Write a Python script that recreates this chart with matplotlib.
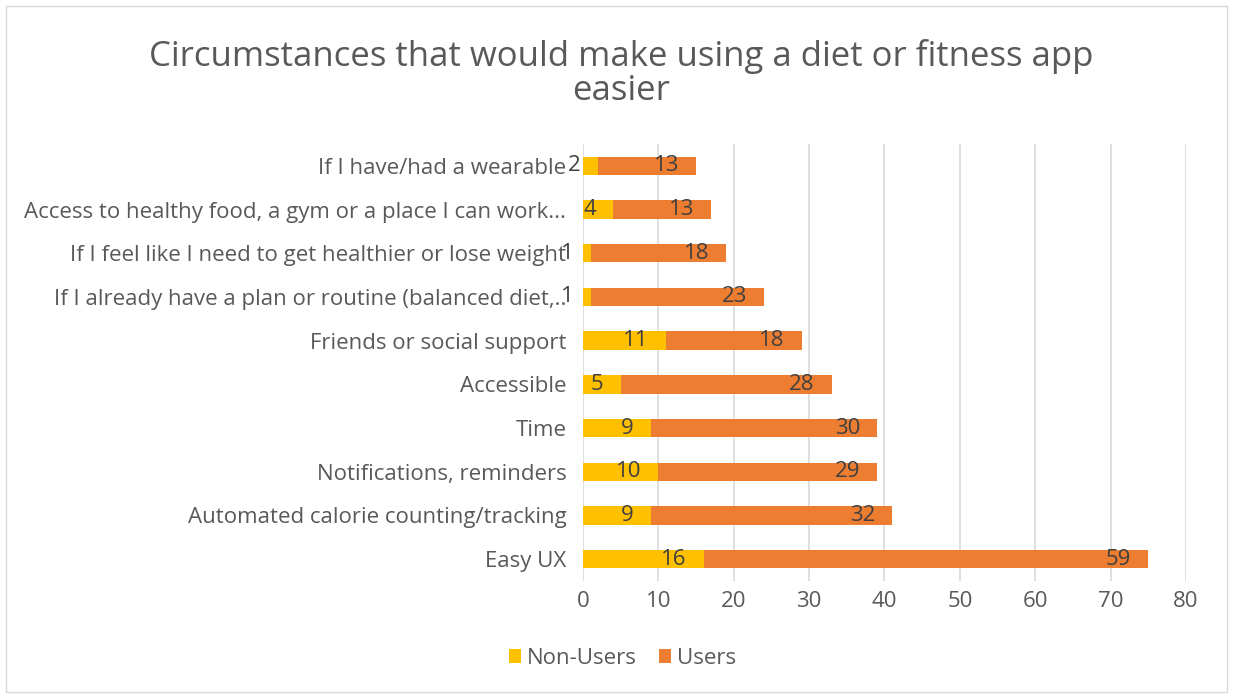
import matplotlib.pyplot as plt
from matplotlib.patches import Rectangle

categories = [
    "Easy UX",
    "Automated calorie counting/tracking",
    "Notifications, reminders",
    "Time",
    "Accessible",
    "Friends or social support",
    "If I already have a plan or routine (balanced diet,..",
    "If I feel like I need to get healthier or lose weight",
    "Access to healthy food, a gym or a place I can work...",
    "If I have/had a wearable",
]
non_users = [16, 9, 10, 9, 5, 11, 1, 1, 4, 2]
users = [59, 32, 29, 30, 28, 18, 23, 18, 13, 13]

plt.rcParams['font.family'] = ['Open Sans', 'DejaVu Sans']
grey = '#595959'

fig = plt.figure(figsize=(12.33, 6.98), dpi=100)
ax = fig.add_axes([0.4728, 0.1676, 0.4891, 0.6261])

y = list(range(len(categories)))
b1 = ax.barh(y, non_users, height=0.42, color='#FFC000', label='Non-Users', zorder=3)
b2 = ax.barh(y, users, left=non_users, height=0.42, color='#ED7D31', label='Users', zorder=3)

# labels sit at the inside end of each segment
for i in y:
    ends = [non_users[i], non_users[i] + users[i]]
    vals = [non_users[i], users[i]]
    for e, v in zip(ends, vals):
        ax.annotate(str(v), xy=(e, i), xytext=(-17, 0), textcoords='offset pixels',
                    ha='right', va='center', fontsize=16, color='#404040', zorder=4)

ax.set_xlim(0, 80)
ax.set_ylim(-0.5, len(categories) - 0.5)
ax.set_xticks(range(0, 81, 10))
ax.set_yticks(y)
ax.set_yticklabels(categories)
ax.tick_params(axis='both', length=0, labelsize=16, labelcolor=grey)
ax.tick_params(axis='y', pad=12)
ax.tick_params(axis='x', pad=7)
ax.grid(axis='x', color='#d9d9d9', linewidth=1.2, zorder=0)
for s in ax.spines.values():
    s.set_visible(False)

fig.text(0.504, 0.895, "Circumstances that would make using a diet or fitness app\neasier",
         ha='center', va='center', fontsize=25, color=grey, linespacing=1.0)

leg = fig.legend(handles=[b1, b2], loc='center', bbox_to_anchor=(0.505, 0.057), ncol=2,
                 frameon=False, fontsize=16, handlelength=0.55, handleheight=0.55,
                 handletextpad=0.25, columnspacing=1.0)
for t in leg.get_texts():
    t.set_color(grey)

fig.patches.append(Rectangle((0.005, 0.008), 0.99, 0.983, transform=fig.transFigure,
                             fill=False, edgecolor='#d9d9d9', linewidth=1))

fig.savefig('out.png', dpi=100)
